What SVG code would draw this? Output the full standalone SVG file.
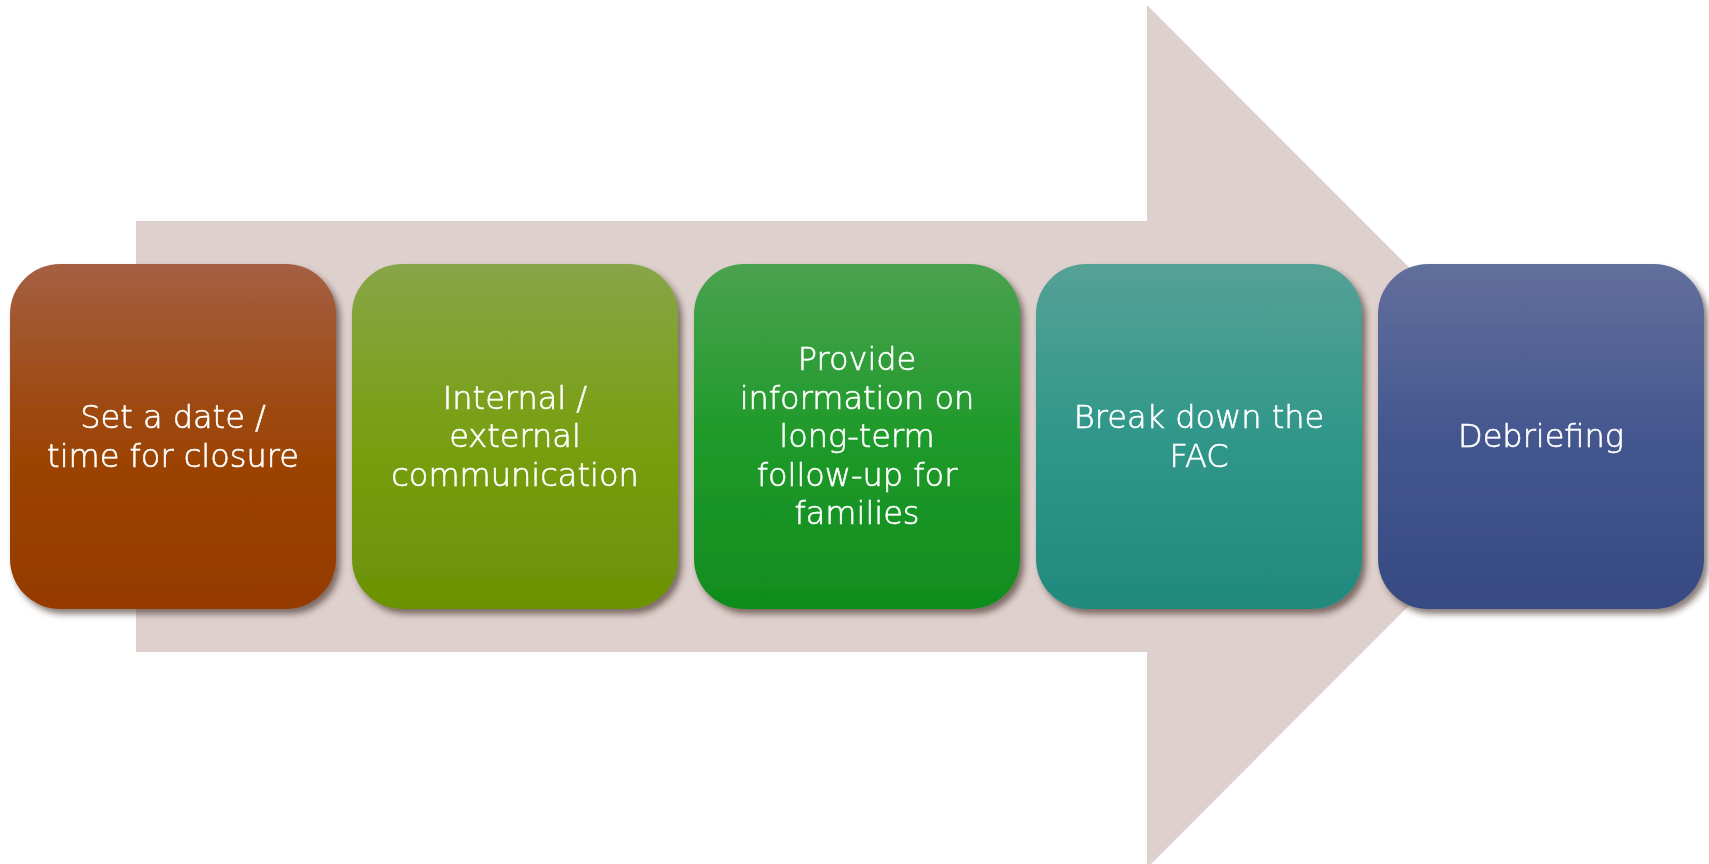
<svg xmlns="http://www.w3.org/2000/svg" width="1709" height="864" viewBox="0 0 1709 864">
<style>
.lbl{font-family:"DejaVu Sans","Liberation Sans",sans-serif;font-size:32px;font-weight:200;fill:#ffffff;stroke:#ffffff;stroke-width:0.6px;text-anchor:middle}
.box{filter:url(#sh)}
</style>
<defs>
<filter id="sh" x="-10%" y="-10%" width="125%" height="125%">
<feDropShadow dx="4" dy="5" stdDeviation="3" flood-color="#3a2820" flood-opacity="0.6"/>
</filter>
<linearGradient id="g1" x1="0" y1="0" x2="0" y2="1"><stop offset="0" stop-color="#a55f42"/><stop offset="0.5" stop-color="#9c4507"/><stop offset="1" stop-color="#953a00"/></linearGradient>
<linearGradient id="g2" x1="0" y1="0" x2="0" y2="1"><stop offset="0" stop-color="#87a548"/><stop offset="0.5" stop-color="#789f12"/><stop offset="1" stop-color="#6b9204"/></linearGradient>
<linearGradient id="g3" x1="0" y1="0" x2="0" y2="1"><stop offset="0" stop-color="#4aa24f"/><stop offset="0.5" stop-color="#1f9a2a"/><stop offset="1" stop-color="#108c1e"/></linearGradient>
<linearGradient id="g4" x1="0" y1="0" x2="0" y2="1"><stop offset="0" stop-color="#55a196"/><stop offset="0.5" stop-color="#30978a"/><stop offset="1" stop-color="#22897d"/></linearGradient>
<linearGradient id="g5" x1="0" y1="0" x2="0" y2="1"><stop offset="0" stop-color="#626f9c"/><stop offset="0.5" stop-color="#44578f"/><stop offset="1" stop-color="#364a82"/></linearGradient>
</defs>
<g id="arrow">
<polygon points="136,221 1147,221 1147,5 1578,436.5 1147,868 1147,652 136,652" fill="#ddd0cd"/>
</g>
<g id="connectors"></g>
<g id="n1" class="box">
<rect x="10" y="264" width="326" height="345" rx="50" ry="50" fill="url(#g1)"/>
<text class="lbl" x="173" y="428">Set a date /</text>
<text class="lbl" x="173" y="467">time for closure</text>
</g>
<g id="n2" class="box">
<rect x="352" y="264" width="326" height="345" rx="50" ry="50" fill="url(#g2)"/>
<text class="lbl" x="515" y="409">Internal /</text>
<text class="lbl" x="515" y="447">external</text>
<text class="lbl" x="515" y="486">communication</text>
</g>
<g id="n3" class="box">
<rect x="694" y="264" width="326" height="345" rx="50" ry="50" fill="url(#g3)"/>
<text class="lbl" x="857" y="370">Provide</text>
<text class="lbl" x="857" y="409">information on</text>
<text class="lbl" x="857" y="447">long-term</text>
<text class="lbl" x="857" y="486">follow-up for</text>
<text class="lbl" x="857" y="524">families</text>
</g>
<g id="n4" class="box">
<rect x="1036" y="264" width="326" height="345" rx="50" ry="50" fill="url(#g4)"/>
<text class="lbl" x="1199" y="428">Break down the</text>
<text class="lbl" x="1199" y="467">FAC</text>
</g>
<g id="n5" class="box">
<rect x="1378" y="264" width="326" height="345" rx="50" ry="50" fill="url(#g5)"/>
<text class="lbl" x="1541" y="447">Debriefing</text>
</g>
</svg>
